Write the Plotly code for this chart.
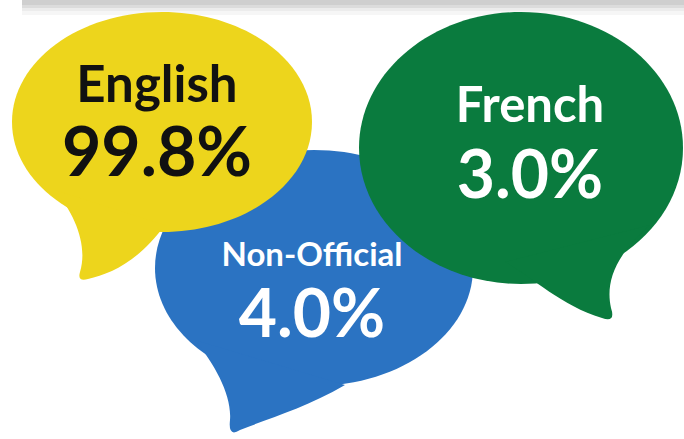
import plotly.graph_objects as go

# ── Data ──────────────────────────────────────────────────────────────────────
languages = ["English", "Non-Official", "French"]
shares = [99.8, 4.0, 3.0]

# ── Layout of the speech bubbles (pixel space, y grows downward) ─────────────
W, H = 684, 439
bubble_fill = ["#EDD51C", "#2B73C2", "#0A7B3E"]
text_color = ["#111111", "#FFFFFF", "#FFFFFF"]
# ellipse centre / radii
bubble_geom = [
    (162, 122, 150, 110),   # English
    (314, 268, 159, 118),   # Non-Official
    (521, 148, 162, 136),   # French
]
# tail outlines: start inside body -> tip -> back inside body
bubble_tail = [
    "M 55,190 C 75,215 88,245 80,272 Q 77,282 88,279 C 110,274 138,262 165,225 Z",
    "M 195,340 C 215,365 232,395 230,420 Q 228,438 240,430 C 270,418 305,408 345,385 Z",
    "M 505,262 C 530,275 560,305 602,318 Q 616,323 611,308 C 606,285 612,258 650,225 Z",
]
name_size = [51, 33, 49]
value_size = [68, 66, 66]
name_y = [89, 258, 110]
value_y = [159, 320, 181]
label_x = [157, 312, 530]


def ellipse_path(cx, cy, rx, ry):
    k = 0.5523
    return (
        f"M {cx - rx},{cy} "
        f"C {cx - rx},{cy - k * ry} {cx - k * rx},{cy - ry} {cx},{cy - ry} "
        f"C {cx + k * rx},{cy - ry} {cx + rx},{cy - k * ry} {cx + rx},{cy} "
        f"C {cx + rx},{cy + k * ry} {cx + k * rx},{cy + ry} {cx},{cy + ry} "
        f"C {cx - k * rx},{cy + ry} {cx - rx},{cy + k * ry} {cx - rx},{cy} Z"
    )


shapes = []

# grey strip with soft shadow along the top
for y1, col in [(15, "#f6f6f6"), (11, "#ececec"), (8, "#dcdcdc"), (5, "#cfcfcf")]:
    shapes.append(dict(type="rect", xref="x", yref="y", x0=22, x1=W, y0=0, y1=y1,
                       fillcolor=col, line_width=0, layer="below"))

# draw order: blue behind, then yellow, then green
for i in [1, 0, 2]:
    cx, cy, rx, ry = bubble_geom[i]
    for p in (ellipse_path(cx, cy, rx, ry), bubble_tail[i]):
        shapes.append(dict(type="path", xref="x", yref="y", path=p,
                           fillcolor=bubble_fill[i], line_width=0, layer="below"))

fig = go.Figure()

fig.add_trace(go.Scatter(
    x=label_x, y=name_y, mode="text",
    text=languages,
    textfont=dict(family="Lato, sans-serif", size=name_size, color=text_color, weight="bold"),
    hoverinfo="skip",
))
fig.add_trace(go.Scatter(
    x=label_x, y=value_y, mode="text",
    text=[f"{v:.1f}%" for v in shares],
    textfont=dict(family="Lato, sans-serif", size=value_size, color=text_color, weight="bold"),
    hoverinfo="skip",
))

fig.update_layout(
    width=W, height=H,
    margin=dict(l=0, r=0, t=0, b=0),
    paper_bgcolor="white", plot_bgcolor="white",
    showlegend=False,
    shapes=shapes,
    xaxis=dict(range=[0, W], visible=False, fixedrange=True),
    yaxis=dict(range=[H, 0], visible=False, fixedrange=True),
)

# drop the default page margin so the figure sits flush in the window
fig.write_html("out.html", config={"displayModeBar": False},
               post_script="document.body.style.margin='0';")
